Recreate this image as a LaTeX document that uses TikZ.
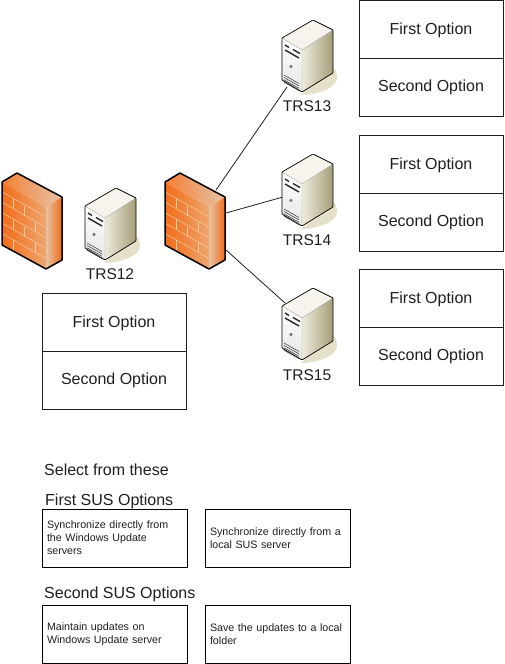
\documentclass[tikz,border=0pt]{standalone}
\usepackage{fontspec}
\setmainfont{Liberation Sans}
\definecolor{ink}{RGB}{30,30,30}
\definecolor{fwA}{RGB}{242,108,25}
\definecolor{fwB}{RGB}{238,165,110}
\definecolor{fwC}{RGB}{230,195,165}
\definecolor{fwL}{RGB}{250,205,160}
\definecolor{srvA}{RGB}{238,235,220}
\definecolor{srvB}{RGB}{165,158,122}
\definecolor{srvS}{RGB}{228,224,202}
\tikzset{
  x=1pt,y=-1pt,
  optbox/.style={draw=ink,line width=0.9pt,minimum width=144pt,minimum height=58pt,inner sep=0pt,text height=13.5pt,text depth=3.4pt,font=\fontsize{16}{18}\selectfont,text=ink},
  optboxb/.style={optbox,text height=12.5pt},
  smallbox/.style={draw=black,line width=0.8pt,minimum width=145pt,minimum height=58pt,inner sep=5pt,text width=135pt,align=left,font=\fontsize{10.7}{13}\selectfont,text=ink},
  lab/.style={font=\fontsize{15.5}{18}\selectfont,text=ink,inner sep=0pt},
  headlab/.style={font=\fontsize{16}{18}\selectfont,text=ink,inner sep=0pt,anchor=west},
  link/.style={draw=ink,line width=0.8pt},
  firewall/.pic={
    \shade[shading angle=60,left color=fwA,right color=fwB] (2,182) -- (46,207) -- (46,269) -- (2,245) -- cycle;
    \shade[left color=fwA!80!fwL,right color=fwC] (2,182) -- (17,173) -- (62,197) -- (46,207) -- cycle;
    \shade[shading angle=70,left color=fwC,right color=fwA] (46,207) -- (62,197) -- (62,260) -- (46,269) -- cycle;
    \foreach \k in {1,...,5}{
      \draw[fwL,line width=0.5pt] (3,182+10.4*\k) -- (45,206+10.4*\k);
    }
    \draw[fwL,line width=0.5pt] (13,198) -- (13,208) (24,206) -- (24,216) (13,219) -- (13,229) (35,222) -- (35,232) (24,227) -- (24,237) (13,240) -- (13,250) (35,243) -- (35,253);
    \draw[black,line width=1.5pt,line join=round] (2,182) -- (17,173) -- (62,197) -- (62,260) -- (46,269) -- (2,245) -- cycle;
  },
  server/.pic={
    \fill[srvS] (104,263) .. controls (120,263) and (140,256) .. (140,246) .. controls (140,240) and (138,236) .. (134,234) -- cycle;
    \shade[top color=white,bottom color=black!10] (85,206) -- (105,218) -- (105,260) -- (85,248) -- cycle;
    \fill[srvA!55!white] (85,206) -- (116,188) -- (136,198) -- (105,218) -- cycle;
    \shade[shading angle=75,left color=srvA,right color=srvB] (105,218) -- (136,198) -- (136,241) -- (105,260) -- cycle;
    \draw[black!35,line width=0.4pt] (85,206) -- (105,218) -- (136,198) (105,218) -- (105,260);
    \draw[black,line width=0.7pt,line join=round,rounded corners=0.8pt] (85,206) -- (116,188) -- (136,198) -- (136,241) -- (105,260) -- (85,248) -- cycle;
    \draw[black!85,line width=1.4pt] (88,213) -- (92,215.5) (96,217.5) -- (103,221.5);
    \draw[black!85,line width=1.4pt] (88,218) -- (102,226);
    \fill[black!70] (94,234.5) circle (1.6pt);
    \fill[white] (94,234.5) circle (0.5pt);
    \foreach \d in {0,2.4,4.8,7.2}{
      \draw[black!80,line width=0.5pt] (87,243+\d) -- (102,251.5+\d);
    }
  }
}
\begin{document}
\begin{tikzpicture}
\useasboundingbox (0,0) rectangle (504,664);
% anchor points on the appliances
\coordinate (fwTop) at (216,190);
\coordinate (fwMid) at (226,213);
\coordinate (fwLow) at (226,250);
\coordinate (s13) at (287,87);
\coordinate (s14) at (283,197);
\coordinate (s15) at (285,303);
\draw[link] (fwTop) -- (s13);
\draw[link] (fwMid) -- (s14);
\draw[link] (fwLow) -- (s15);

\pic at (0,0) {firewall};
\pic at (163,0) {firewall};
\pic at (0,0) {server};
\pic at (197,-168) {server};
\pic at (197,-34) {server};
\pic at (197,100) {server};

\node[lab] (t12) at (110,274.5) {TRS12};
\node[lab] (t13) at (307,106.5) {TRS13};
\node[lab] (t14) at (307,240.5) {TRS14};
\node[lab] (t15) at (307,375.5) {TRS15};

\node[optbox] (a1) at (431,29) {First Option};
\node[optboxb] (a2) at (431,87) {Second Option};
\node[optbox] (b1) at (431,164) {First Option};
\node[optboxb] (b2) at (431,222) {Second Option};
\node[optbox] (c1) at (431,298) {First Option};
\node[optboxb] (c2) at (431,356) {Second Option};
\node[optbox] (d1) at (114,322) {First Option};
\node[optboxb] (d2) at (114,380) {Second Option};

\node[headlab] (h0) at (44,470) {Select from these};
\node[headlab] (h1) at (45,501) {First SUS Options};
\node[headlab] (h2) at (44,594) {Second SUS Options};

\node[smallbox] (o1) at (114.5,538) {Synchronize directly from\\the Windows Update\\servers};
\node[smallbox] (o2) at (277.5,538) {Synchronize directly from a\\local SUS server};
\node[smallbox] (o3) at (114.5,634) {Maintain updates on\\Windows Update server};
\node[smallbox] (o4) at (277.5,634) {Save the updates to a local\\folder};
\end{tikzpicture}
\end{document}
